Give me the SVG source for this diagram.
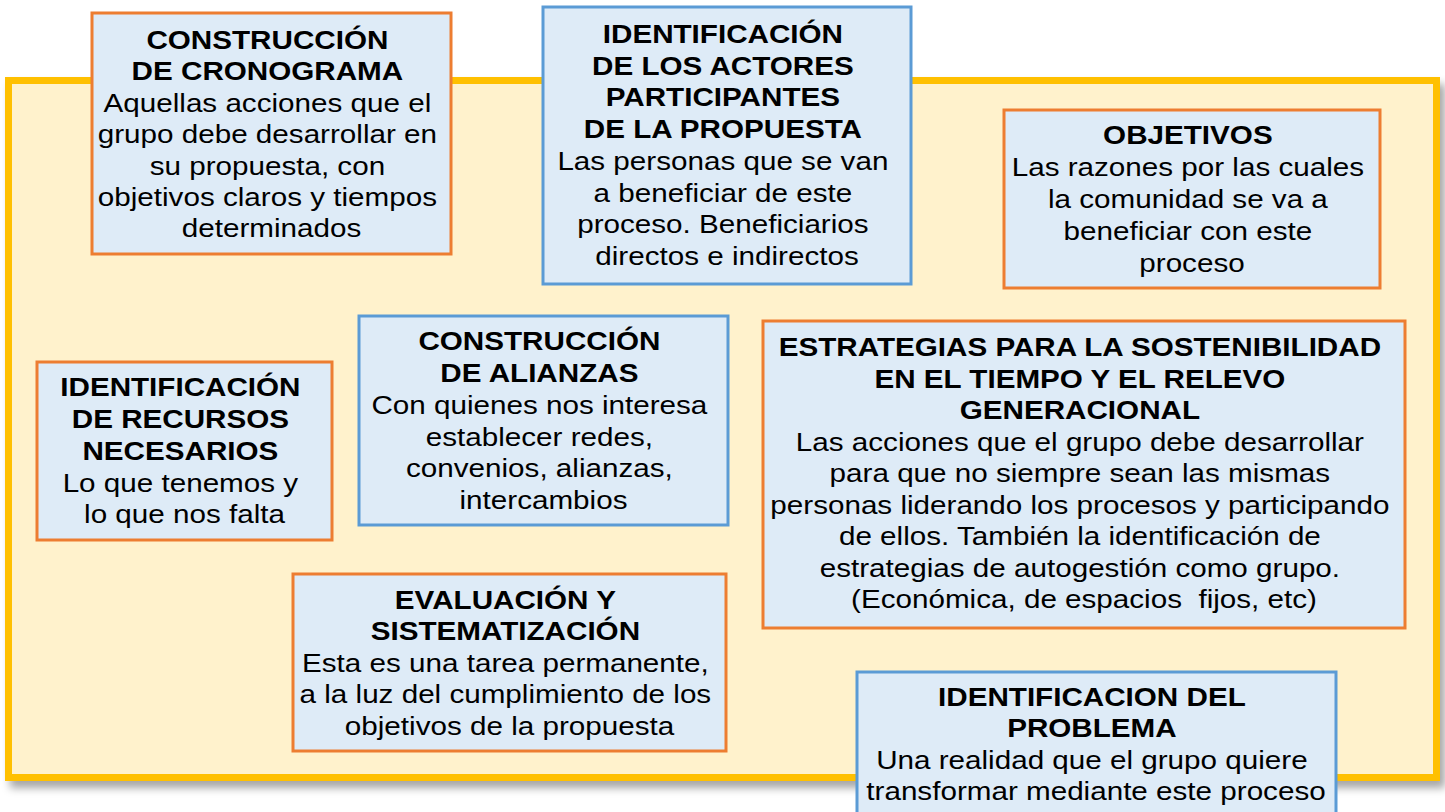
<svg xmlns="http://www.w3.org/2000/svg" width="1445" height="812" viewBox="0 0 1445 812">
<defs>
<filter id="sh" x="-5%" y="-5%" width="110%" height="115%">
<feDropShadow dx="5" dy="7" stdDeviation="4" flood-color="#000" flood-opacity="0.35"/>
</filter>
</defs>
<style>
.bg{fill:#FFF2CC;stroke:#FFC000;stroke-width:7}
.box{fill:#DEEBF7;stroke-width:3}
.o{stroke:#ED7D31}
.bl{stroke:#5B9BD5}
text{font-family:"Liberation Sans",Arial,sans-serif;font-size:25px;fill:#000;text-anchor:middle}
.b{font-weight:bold}
</style>
<rect class="bg" x="8.5" y="80.5" width="1428" height="697" filter="url(#sh)"/>
<g id="connectors"></g>

<g id="cronograma">
<rect class="box o" x="92" y="13" width="359" height="241"/>
<text transform="translate(271.5,0) scale(1.185,1)">
<tspan class="b" x="0" y="49">CONSTRUCCIÓN</tspan>
<tspan class="b" x="0" y="80">DE CRONOGRAMA</tspan>
<tspan x="0" y="112">Aquellas acciones que el</tspan>
<tspan x="0" y="143">grupo debe desarrollar en</tspan>
<tspan x="0" y="175">su propuesta, con</tspan>
<tspan x="0" y="206">objetivos claros y tiempos</tspan>
<tspan x="0" y="237">determinados</tspan>
</text>
</g>

<g id="actores">
<rect class="box bl" x="543" y="7" width="368" height="277"/>
<text transform="translate(727,0) scale(1.185,1)">
<tspan class="b" x="0" y="43">IDENTIFICACIÓN</tspan>
<tspan class="b" x="0" y="75">DE LOS ACTORES</tspan>
<tspan class="b" x="0" y="106">PARTICIPANTES</tspan>
<tspan class="b" x="0" y="138">DE LA PROPUESTA</tspan>
<tspan x="0" y="170">Las personas que se van</tspan>
<tspan x="0" y="202">a beneficiar de este</tspan>
<tspan x="0" y="233">proceso. Beneficiarios</tspan>
<tspan x="0" y="265">directos e indirectos</tspan>
</text>
</g>

<g id="objetivos">
<rect class="box o" x="1004" y="110" width="376" height="178"/>
<text transform="translate(1192,0) scale(1.185,1)">
<tspan class="b" x="0" y="144">OBJETIVOS</tspan>
<tspan x="0" y="176">Las razones por las cuales</tspan>
<tspan x="0" y="208">la comunidad se va a</tspan>
<tspan x="0" y="240">beneficiar con este</tspan>
<tspan x="0" y="272">proceso</tspan>
</text>
</g>

<g id="recursos">
<rect class="box o" x="37" y="362" width="295" height="178"/>
<text transform="translate(184.5,0) scale(1.185,1)">
<tspan class="b" x="0" y="396">IDENTIFICACIÓN</tspan>
<tspan class="b" x="0" y="428">DE RECURSOS</tspan>
<tspan class="b" x="0" y="460">NECESARIOS</tspan>
<tspan x="0" y="492">Lo que tenemos y</tspan>
<tspan x="0" y="523">lo que nos falta</tspan>
</text>
</g>

<g id="alianzas">
<rect class="box bl" x="359" y="316" width="369" height="209"/>
<text transform="translate(543.5,0) scale(1.185,1)">
<tspan class="b" x="0" y="350">CONSTRUCCIÓN</tspan>
<tspan class="b" x="0" y="382">DE ALIANZAS</tspan>
<tspan x="0" y="414">Con quienes nos interesa</tspan>
<tspan x="0" y="446">establecer redes,</tspan>
<tspan x="0" y="477">convenios, alianzas,</tspan>
<tspan x="0" y="509">intercambios</tspan>
</text>
</g>

<g id="estrategias">
<rect class="box o" x="763" y="321" width="642" height="307"/>
<text transform="translate(1084,0) scale(1.185,1)">
<tspan class="b" x="0" y="356">ESTRATEGIAS PARA LA SOSTENIBILIDAD</tspan>
<tspan class="b" x="0" y="388">EN EL TIEMPO Y EL RELEVO</tspan>
<tspan class="b" x="0" y="419">GENERACIONAL</tspan>
<tspan x="0" y="451">Las acciones que el grupo debe desarrollar</tspan>
<tspan x="0" y="482">para que no siempre sean las mismas</tspan>
<tspan x="0" y="514">personas liderando los procesos y participando</tspan>
<tspan x="0" y="545">de ellos. También la identificación de</tspan>
<tspan x="0" y="577">estrategias de autogestión como grupo.</tspan>
<tspan x="0" y="608" xml:space="preserve">(Económica, de espacios  fijos, etc)</tspan>
</text>
</g>

<g id="evaluacion">
<rect class="box o" x="293" y="574" width="433" height="177"/>
<text transform="translate(509.5,0) scale(1.185,1)">
<tspan class="b" x="0" y="609">EVALUACIÓN Y</tspan>
<tspan class="b" x="0" y="640">SISTEMATIZACIÓN</tspan>
<tspan x="0" y="672">Esta es una tarea permanente,</tspan>
<tspan x="0" y="703">a la luz del cumplimiento de los</tspan>
<tspan x="0" y="735">objetivos de la propuesta</tspan>
</text>
</g>

<g id="problema">
<rect class="box bl" x="857" y="672" width="479" height="150"/>
<text transform="translate(1096,0) scale(1.185,1)">
<tspan class="b" x="0" y="706">IDENTIFICACION DEL</tspan>
<tspan class="b" x="0" y="737">PROBLEMA</tspan>
<tspan x="0" y="769">Una realidad que el grupo quiere</tspan>
<tspan x="0" y="800">transformar mediante este proceso</tspan>
</text>
</g>
</svg>
